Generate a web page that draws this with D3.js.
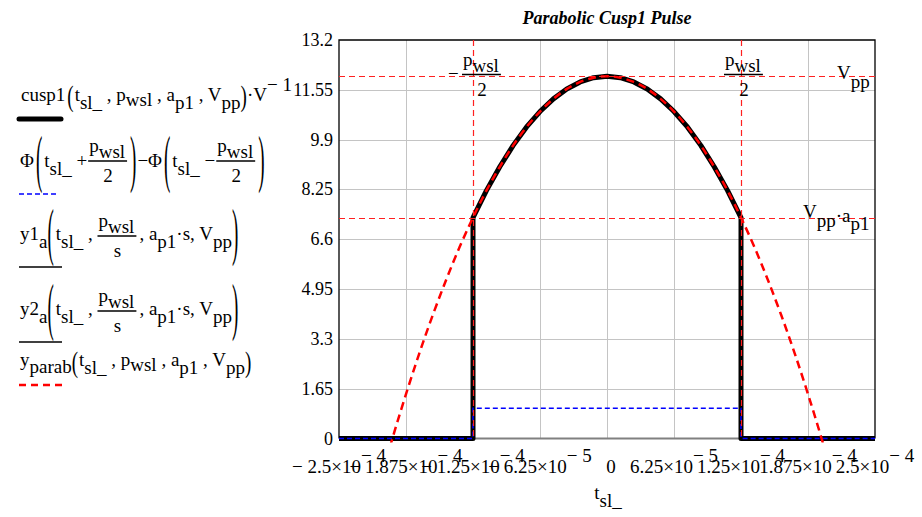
<!DOCTYPE html>
<html><head><meta charset="utf-8">
<script src="https://cdn.jsdelivr.net/npm/d3@7"></script>
<style>
html,body{margin:0;padding:0;background:#fff;}
svg{display:block;font-family:"Liberation Serif","Times New Roman",serif;}
text{white-space:pre;}
</style></head>
<body><svg id="c" width="922" height="517"></svg>
<script>
// ---------- data ----------
const title = "Parabolic Cusp1 Pulse";
const xTicks = [-2.5e-4, -1.875e-4, -1.25e-4, -6.25e-5, 0, 6.25e-5, 1.25e-4, 1.875e-4, 2.5e-4];
const xTickMant = ["− 2.5×10", "− 1.875×10", "− 1.25×10", "− 6.25×10", "0", "6.25×10", "1.25×10", "1.875×10", "2.5×10"];
const xTickExp  = ["− 4", "− 4", "− 4", "− 5", "", "− 5", "− 4", "− 4", "− 4"];
const yTicks = [0, 1.65, 3.3, 4.95, 6.6, 8.25, 9.9, 11.55, 13.2];
const yTickLabels = ["0", "1.65", "3.3", "4.95", "6.6", "8.25", "9.9", "11.55", "13.2"];

// y_parab (red dashed)
const tParab = [-2.125e-4, -2.0e-4, -1.875e-4, -1.75e-4, -1.625e-4, -1.5e-4, -1.375e-4, -1.25e-4,
  -1.125e-4, -1.0e-4, -8.75e-5, -7.5e-5, -6.25e-5, -5.0e-5, -3.75e-5, -2.5e-5, -1.25e-5, 0,
  1.25e-5, 2.5e-5, 3.75e-5, 5.0e-5, 6.25e-5, 7.5e-5, 8.75e-5, 1.0e-4, 1.125e-4,
  1.25e-4, 1.375e-4, 1.5e-4, 1.625e-4, 1.75e-4, 1.875e-4, 2.0e-4, 2.125e-4];
const yParab = [-1.53, 0.02, 1.47, 2.83, 4.09, 5.26, 6.34, 7.32,
  8.21, 9.00, 9.71, 10.32, 10.83, 11.25, 11.58, 11.81, 11.95, 12.00,
  11.95, 11.81, 11.58, 11.25, 10.83, 10.32, 9.71, 9.00, 8.21,
  7.32, 6.34, 5.26, 4.09, 2.83, 1.47, 0.02, -1.53];

// cusp1 (thick black)
const tCusp = [-2.5e-4, -1.25e-4, -1.25e-4, -1.125e-4, -1.0e-4, -8.75e-5, -7.5e-5, -6.25e-5, -5.0e-5,
  -3.75e-5, -2.5e-5, -1.25e-5, 0, 1.25e-5, 2.5e-5, 3.75e-5, 5.0e-5, 6.25e-5, 7.5e-5, 8.75e-5,
  1.0e-4, 1.125e-4, 1.25e-4, 1.25e-4, 2.5e-4];
const yCusp = [0, 0, 7.32, 8.21, 9.00, 9.71, 10.32, 10.83, 11.25,
  11.58, 11.81, 11.95, 12.00, 11.95, 11.81, 11.58, 11.25, 10.83, 10.32, 9.71,
  9.00, 8.21, 7.32, 0, 0];

// Phi(t + p/2) - Phi(t - p/2) (blue dashed)
const tPhi = [-2.5e-4, -1.25e-4, -1.25e-4, 1.25e-4, 1.25e-4, 2.5e-4];
const yPhi = [0, 0, 1, 1, 0, 0];

// marker lines
const markerX = [-1.25e-4, 1.25e-4];
const markerY = [12, 7.32];

// ---------- drawing ----------
const svg = d3.select("#c");
const L = 339, R = 875, T = 40, B = 438.5;
const x = d3.scaleLinear().domain([-2.5e-4, 2.5e-4]).range([L, R]);
const y = d3.scaleLinear().domain([0, 13.2]).range([B, T]);
const snap = v => Math.round(v) + 0.5;

svg.append("defs").append("clipPath").attr("id", "clip")
  .append("rect").attr("x", L).attr("y", T).attr("width", R - L).attr("height", B - T + 4);

// title
svg.append("text").attr("x", 607).attr("y", 24).attr("text-anchor", "middle")
  .attr("font-size", 18).attr("font-weight", "bold").attr("font-style", "italic").text(title);

// grid (skip positions covered by the marker lines)
const grid = svg.append("g");
grid.selectAll(".gx").data(xTicks.slice(1, -1).filter(d => !markerX.includes(d))).join("line")
  .attr("x1", d => snap(x(d))).attr("x2", d => snap(x(d))).attr("y1", T).attr("y2", B)
  .attr("stroke", "#c4c4c4").attr("stroke-width", 1);
grid.selectAll(".gy").data(yTicks.slice(1, -1)).join("line")
  .attr("y1", d => snap(y(d))).attr("y2", d => snap(y(d))).attr("x1", L).attr("x2", R)
  .attr("stroke", "#c4c4c4").attr("stroke-width", 1);

// frame
svg.append("line").attr("x1", L).attr("x2", R).attr("y1", B).attr("y2", B).attr("stroke", "#808080").attr("stroke-width", 2);
svg.append("path").attr("d", `M${L},${B}V${T}H${R}V${B}`).attr("fill", "none").attr("stroke", "#000").attr("stroke-width", 1.3);

// y tick labels
svg.append("g").selectAll("text").data(yTicks).join("text")
  .attr("x", L - 6).attr("y", d => y(d) + 6).attr("text-anchor", "end").attr("font-size", 18)
  .text((d, i) => yTickLabels[i]);

function rich(px, py, parts, size, anchor) {
  const t = svg.append("text").attr("x", px).attr("y", py).attr("font-size", size || 19)
    .attr("text-anchor", anchor || "start");
  let cur = 0;
  parts.forEach(p => {
    const s = Array.isArray(p) ? p[0] : p, off = Array.isArray(p) ? p[1] : 0;
    t.append("tspan").attr("dy", off - cur).text(s);
    cur = off;
  });
  return t;
}
// x tick labels
xTicks.forEach((v, i) => {
  const parts = [[xTickMant[i], 0]];
  if (xTickExp[i]) parts.push([xTickExp[i], -11]);
  rich(x(v) + (v === 0 ? 4 : 0), 473, parts, 19, "middle");
});
rich(608, 499, [["t", 0], ["sl_", 8]], 19, "middle");

// series
const plot = svg.append("g").attr("clip-path", "url(#clip)");
const line = d3.line().x(d => x(d[0])).y(d => y(d[1]));
plot.append("path").datum(tCusp.map((t, i) => [t, yCusp[i]])).attr("d", line)
  .attr("fill", "none").attr("stroke", "#000").attr("stroke-width", 5).attr("stroke-linejoin", "round");
plot.append("path").datum(tPhi.map((t, i) => [t, yPhi[i]])).attr("d", line)
  .attr("fill", "none").attr("stroke", "#0000ff").attr("stroke-width", 1.5).attr("stroke-dasharray", "5,3");
plot.append("path").datum(tParab.map((t, i) => [t, yParab[i]])).attr("d", line.curve(d3.curveNatural))
  .attr("fill", "none").attr("stroke", "#ff0000").attr("stroke-width", 2.5).attr("stroke-dasharray", "8,5");

// markers
svg.append("g").selectAll("line").data(markerX).join("line")
  .attr("x1", d => snap(x(d))).attr("x2", d => snap(x(d))).attr("y1", T).attr("y2", B)
  .attr("stroke", "#ff2020").attr("stroke-width", 1.2).attr("stroke-dasharray", "6,4");
svg.append("g").selectAll("line").data(markerY).join("line")
  .attr("y1", d => snap(y(d))).attr("y2", d => snap(y(d))).attr("x1", L).attr("x2", R)
  .attr("stroke", "#ff2020").attr("stroke-width", 1.2).attr("stroke-dasharray", "6,4");

// marker labels
function frac(px, numParts, den, lineY, size) {
  const n = rich(px + 1, lineY - 9, numParts, size || 19);
  const w = n.node().getComputedTextLength() + 2;
  svg.append("line").attr("x1", px).attr("x2", px + w + 1).attr("y1", lineY).attr("y2", lineY)
    .attr("stroke", "#000").attr("stroke-width", 1.3);
  rich(px + w / 2 + 1, lineY + 21, [[den, 0]], size || 19, "middle");
  return w + 1;
}
rich(448, 80, [["−", 0]], 19);
frac(462, [["p", 0], ["wsl", 6]], "2", 74.5);
frac(724, [["p", 0], ["wsl", 6]], "2", 74.5);
rich(837, 79, [["V", 0], ["pp", 9]], 19);
rich(803, 218, [["V", 0], ["pp", 9], ["·a", 4], ["p1", 12]], 19);

// ---------- legend ----------
function bigParen(px, cy, ch, sy) {
  const t = svg.append("text").attr("font-size", 19)
    .attr("transform", `translate(${px},${cy}) scale(1,${sy})`).attr("dy", "0.33em").text(ch);
  return t.node().getComputedTextLength();
}
function flow(x0, base, items) {
  let cx = x0;
  items.forEach(it => {
    if (it.paren) {
      cx += bigParen(cx, it.cy, it.paren, it.sy) + (it.gap || 0);
    } else if (it.frac) {
      cx += frac(cx, it.frac, it.den, it.lineY) + 3;
    } else {
      const t = rich(cx, base, it.parts, 19);
      cx += t.node().getComputedTextLength() + (it.gap || 0);
    }
  });
  return cx;
}
// line 1
flow(21, 101, [
  { parts: [["cusp1", 0]], gap: 2 },
  { paren: "(", cy: 96, sy: 1.55, gap: 1 },
  { parts: [["t", 0], ["sl_", 8], [" , p", 0], ["wsl", 5], [" , a", 0], ["p1", 8], [" , V", 0], ["pp", 8]] },
  { paren: ")", cy: 96, sy: 1.55, gap: 0 },
  { parts: [["·V", 0], ["− 1", -10]] }
]);
svg.append("line").attr("x1", 19).attr("x2", 61).attr("y1", 119).attr("y2", 119)
  .attr("stroke", "#000").attr("stroke-width", 5).attr("stroke-linecap", "round");

// line 2
flow(20, 167, [
  { parts: [["Φ", 0]], gap: 2 },
  { paren: "(", cy: 159, sy: 3.3, gap: 2 },
  { parts: [["t", 0], ["sl_", 8], [" +", 0]], gap: 1 },
  { frac: [["p", 0], ["wsl", 6]], den: "2", lineY: 161 },
  { paren: ")", cy: 159, sy: 3.3, gap: 1 },
  { parts: [["−Φ", 0]], gap: 2 },
  { paren: "(", cy: 159, sy: 3.3, gap: 2 },
  { parts: [["t", 0], ["sl_", 8], [" −", 0]], gap: 1 },
  { frac: [["p", 0], ["wsl", 6]], den: "2", lineY: 161 },
  { paren: ")", cy: 159, sy: 3.3, gap: 0 }
]);
svg.append("line").attr("x1", 19).attr("x2", 59).attr("y1", 194).attr("y2", 194)
  .attr("stroke", "#0000ff").attr("stroke-width", 1.3).attr("stroke-dasharray", "5,3");

// lines 3 and 4
[["y1", 240, 267], ["y2", 315, 342]].forEach(([nm, base, sampleY]) => {
  flow(20, base, [
    { parts: [[nm, 0], ["a", 8]] },
    { paren: "(", cy: base - 8, sy: 3.3, gap: 2 },
    { parts: [["t", 0], ["sl_", 8], [" , ", 0]] },
    { frac: [["p", 0], ["wsl", 6]], den: "s", lineY: base - 4 },
    { parts: [[", a", 0], ["p1", 8], ["·s, V", 0], ["pp", 8]] },
    { paren: ")", cy: base - 8, sy: 3.3, gap: 0 }
  ]);
  svg.append("line").attr("x1", 19).attr("x2", 62).attr("y1", sampleY).attr("y2", sampleY)
    .attr("stroke", "#000").attr("stroke-width", 1.3);
});

// line 5
flow(20, 366, [
  { parts: [["y", 0], ["parab", 7]] },
  { paren: "(", cy: 362, sy: 1.55, gap: 1 },
  { parts: [["t", 0], ["sl_", 8], [" , p", 0], ["wsl", 5], [" , a", 0], ["p1", 8], [" , V", 0], ["pp", 8]] },
  { paren: ")", cy: 362, sy: 1.55, gap: 0 }
]);
svg.append("line").attr("x1", 19).attr("x2", 62).attr("y1", 385).attr("y2", 385)
  .attr("stroke", "#ff0000").attr("stroke-width", 2.5).attr("stroke-dasharray", "7,5");
</script>
</body></html>
